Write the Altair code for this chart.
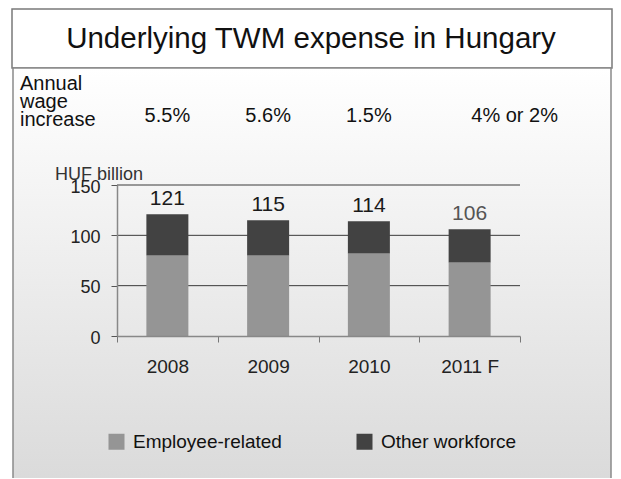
import altair as alt
import pandas as pd

title_text = "Underlying TWM expense in Hungary"
years = ["2008", "2009", "2010", "2011 F"]
employee = [80, 80, 82, 73]
other = [41, 35, 32, 33]
totals = [121, 115, 114, 106]
wage = ["5.5%", "5.6%", "1.5%", "4% or 2%"]
wage_header = ["Annual", "wage", "increase"]
segments = ["Employee-related", "Other workforce"]
seg_colors = ["#959595", "#424242"]
y_ticks = [0, 50, 100, 150]
grid_vals = [50, 100, 150]
unit_label = "HUF billion"

SANS = "Liberation Sans, Arial, sans-serif"

rows = []
for i, yr in enumerate(years):
    rows.append({"year": yr, "segment": segments[0], "value": employee[i], "ord": 0})
    rows.append({"year": yr, "segment": segments[1], "value": other[i], "ord": 1})
df = pd.DataFrame(rows)
df_tot = pd.DataFrame({"year": years, "total": totals, "wage": wage})
df_grid = pd.DataFrame({"v": grid_vals})
df_one = pd.DataFrame({"t": [title_text], "u": [unit_label]})

xscale = alt.Scale(domain=years, paddingInner=0, paddingOuter=0)
yscale = alt.Scale(domain=[0, 150])

# frames (relative to plot origin)
title_box = alt.Chart(df_one).mark_rect(fill="#ffffff", stroke="#7a7a7a", strokeWidth=1.5).encode(
    x=alt.value(-105), x2=alt.value(495), y=alt.value(-176), y2=alt.value(-117))
grad = alt.LinearGradient(gradient="linear", x1=0, x2=0, y1=0, y2=1,
                          stops=[alt.GradientStop(color="#ffffff", offset=0),
                                 alt.GradientStop(color="#dadada", offset=1)])
body_box = alt.Chart(df_one).mark_rect(fill=grad, stroke="#8a8a8a", strokeWidth=1.5).encode(
    x=alt.value(-104), x2=alt.value(494), y=alt.value(-117), y2=alt.value(300))

title = alt.Chart(df_one).mark_text(font=SANS, fontSize=29.5, color="#111111", align="center",
                                    baseline="alphabetic").encode(
    x=alt.value(194), y=alt.value(-137), text="t:N")

header = alt.Chart(df_one).mark_text(font=SANS, fontSize=20, color="#111111", align="left",
                                     baseline="alphabetic", lineHeight=18).encode(
    x=alt.value(-97), y=alt.value(-95), text=alt.value(wage_header))

wage_a = alt.Chart(df_tot).transform_filter(alt.datum.year != years[-1]).mark_text(
    font=SANS, fontSize=20, color="#111111", align="center", baseline="alphabetic").encode(
    x=alt.X("year:N", sort=years, scale=xscale), y=alt.value(-63), text="wage:N")
wage_b = alt.Chart(df_tot).transform_filter(alt.datum.year == years[-1]).mark_text(
    font=SANS, fontSize=20, color="#111111", align="center", baseline="alphabetic", dx=45).encode(
    x=alt.X("year:N", sort=years, scale=xscale), y=alt.value(-63), text="wage:N")

unit = alt.Chart(df_one).mark_text(font=SANS, fontSize=18, color="#333333", align="left",
                                   baseline="alphabetic").encode(
    x=alt.value(-62), y=alt.value(-5), text="u:N")

grid = alt.Chart(df_grid).mark_rule(color="#3a3a3a", strokeWidth=1).encode(
    y=alt.Y("v:Q", scale=yscale))

bars = alt.Chart(df).mark_bar(size=42).encode(
    x=alt.X("year:N", sort=years, scale=xscale, title=None,
            axis=alt.Axis(labelAngle=0, labelFont=SANS, labelFontSize=19, labelColor="#222222",
                          labelAlign="center", labelOffset=0,
                          labelPadding=24, tickBand="extent", tickSize=6, tickColor="#777777",
                          domainColor="#888888", domainWidth=1.5, zindex=2)),
    y=alt.Y("value:Q", stack="zero", scale=yscale, title=None,
            axis=alt.Axis(values=y_ticks, grid=False, labelFont=SANS, labelFontSize=18,
                          labelColor="#222222", labelPadding=11, labelOffset=2, tickSize=6,
                          tickColor="#555555", domainColor="#888888", domainWidth=1.5, zindex=2)),
    color=alt.Color("segment:N", scale=alt.Scale(domain=segments, range=seg_colors),
                    legend=alt.Legend(title=None, orient="none", legendX=-10, legendY=247,
                                      direction="horizontal", symbolType="square", symbolSize=256,
                                      symbolStrokeWidth=0, labelFont=SANS, labelFontSize=19,
                                      labelColor="#111111", labelOffset=7, columnPadding=73,
                                      padding=0)),
    order=alt.Order("ord:Q"))

labels = alt.Chart(df_tot).mark_text(font=SANS, fontSize=21, baseline="alphabetic", dy=-9).encode(
    x=alt.X("year:N", sort=years, scale=xscale),
    y=alt.Y("total:Q", scale=yscale),
    text="total:Q",
    color=alt.condition(alt.datum.year == years[-1], alt.value("#555555"), alt.value("#1a1a1a")))

chart = alt.layer(title_box, body_box, title, header, wage_a, wage_b, unit, grid, bars, labels).properties(
    width=403, height=151,
    padding={"left": 109, "top": 177, "right": 93, "bottom": 142},
    autosize=alt.AutoSizeParams(type="none"),
    background="#ffffff",
).configure_view(stroke=None)

chart.save("out.html", embed_options={"renderer": "svg", "actions": False})
